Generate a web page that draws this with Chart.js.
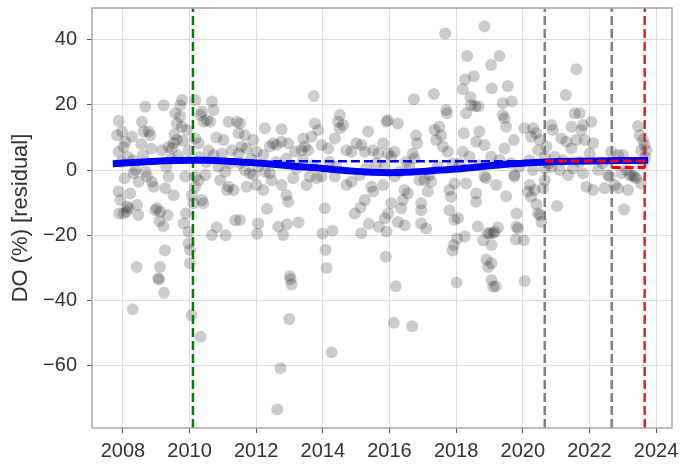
<!DOCTYPE html>
<html>
<head>
<meta charset="utf-8">
<script src="https://cdn.jsdelivr.net/npm/chart.js@4.4.1/dist/chart.umd.min.js"></script>
<style>
    html, body { margin: 0; padding: 0; background: #fff; }
    #wrap { width: 683px; height: 471px; }
</style>
</head>
<body>
<div id="wrap"><canvas id="do-residual-chart" width="683" height="471"></canvas></div>
<script>
// residual observations: [decimal year, DO (%) residual]
const residuals = [
    [2007.87,15.1],[2007.97,11.8],[2007.82,10.7],[2008.07,8.7],[2007.87,5.6],[2008.02,7.1],[2008.27,10.2],[2008.37,0.0],[2008.32,-1.0],[2008.47,-3.6],[2007.87,-6.6],[2007.92,-9.2],[2008.22,-7.2],[2008.12,-11.2],[2007.89,-13.3],[2008.02,-13.3],[2008.17,-11.7],[2008.11,-12.8],[2008.46,-13.8],[2008.42,-10.7],[2008.41,-29.7],[2008.29,-42.7],[2007.95,2.5],[2008.15,4.0],[2008.3,3.0],[2008.05,-2.5],
    [2008.62,11.8],[2008.67,19.4],[2008.57,14.8],[2008.77,11.8],[2008.82,10.7],[2008.67,-0.5],[2008.72,-2.0],[2008.87,-3.6],[2008.92,-5.1],[2008.97,-12.3],[2008.6,4.5],[2008.85,6.5],[2008.55,8.0],
    [2009.12,-12.8],[2009.09,-15.6],[2009.21,-17.2],[2009.17,6.1],[2009.22,19.9],[2009.37,7.1],[2009.47,6.6],[2009.52,8.2],[2009.62,9.2],[2009.57,17.4],[2009.72,19.9],[2009.77,21.5],[2009.62,14.3],[2009.77,13.3],[2009.92,12.3],[2009.72,16.4],[2009.97,6.1],[2009.37,-2.0],[2009.27,-5.6],[2009.52,-7.7],[2009.87,-2.0],[2009.02,-11.7],[2009.34,-13.8],[2009.89,-13.3],[2009.82,-16.4],[2009.97,-18.9],[2009.97,-22.5],[2009.26,-24.7],[2009.11,-29.7],[2009.06,-33.2],[2009.08,-33.6],[2009.23,-37.6],[2009.45,3.5],[2009.65,4.5],[2009.3,1.0],[2009.8,9.0],[2009.55,11.0],
    [2010.01,-24.5],[2010.01,-28.6],[2010.06,-44.5],[2010.33,-51.1],[2010.11,-10.2],[2010.17,9.7],[2010.27,8.2],[2010.32,16.9],[2010.42,14.8],[2010.37,17.9],[2010.52,15.3],[2010.62,14.8],[2010.72,18.4],[2010.67,21.0],[2010.17,21.5],[2010.57,6.1],[2010.72,4.6],[2010.97,5.1],[2010.17,-2.0],[2010.27,-3.1],[2010.47,-1.5],[2010.37,-9.2],[2010.07,-7.7],[2010.87,1.0],[2010.92,-3.1],[2010.81,-17.5],[2010.67,-19.9],[2010.17,-5.1],[2010.41,-10.2],[2010.5,2.5],[2010.3,4.0],[2010.8,10.0],
    [2011.02,9.2],[2011.17,14.8],[2011.42,14.8],[2011.47,11.3],[2011.27,6.1],[2011.47,5.1],[2011.07,-0.5],[2011.17,-5.1],[2011.12,-6.1],[2011.32,-6.1],[2011.37,-15.4],[2011.08,-20.0],[2011.51,14.3],[2011.66,10.7],[2011.56,7.2],[2011.71,6.6],[2011.91,9.2],[2011.51,2.1],[2011.66,0.0],[2011.81,-1.0],[2011.91,-1.5],[2011.71,-5.1],[2011.51,-15.3],[2011.2,2.0],[2011.85,3.5],
    [2012.01,5.6],[2012.21,4.6],[2012.26,12.8],[2012.41,7.2],[2012.51,8.2],[2012.61,7.7],[2012.76,12.5],[2012.76,8.7],[2012.96,8.2],[2012.06,1.0],[2012.26,-0.5],[2012.41,-1.0],[2012.46,-3.1],[2012.21,-6.1],[2012.01,-4.6],[2012.76,-4.6],[2012.91,-7.7],[2012.96,-9.7],[2012.32,-11.9],[2012.06,-16.4],[2012.03,-19.5],[2012.66,-17.4],[2012.81,-19.9],[2012.92,-16.6],[2012.63,-73.4],[2012.73,-60.8],[2012.99,-45.7],[2013.01,-32.5],[2013.03,-33.5],[2013.06,-35.1],[2012.6,2.5],[2012.9,3.5],
    [2013.16,5.6],[2013.36,6.1],[2013.46,7.2],[2013.56,6.1],[2013.41,9.7],[2013.66,10.2],[2013.76,14.3],[2013.86,12.3],[2013.96,7.7],[2013.73,22.7],[2013.11,-2.5],[2013.21,0.5],[2013.51,-4.6],[2013.61,-2.0],[2013.81,-2.5],[2013.96,-2.0],[2013.27,-16.1],[2013.7,1.5],[2013.4,3.0],[2013.99,-19.5],
    [2014.16,6.6],[2014.36,9.7],[2014.51,12.8],[2014.46,14.8],[2014.51,16.9],[2014.61,13.8],[2014.71,6.1],[2014.86,5.6],[2015.01,8.2],[2014.06,-11.7],[2014.08,-24.5],[2014.11,-30.0],[2014.26,-55.9],[2014.29,-18.6],[2014.36,-2.0],[2014.71,-4.6],[2014.86,-3.6],[2014.96,-13.3],[2014.4,1.0],[2014.2,2.5],
    [2015.16,7.7],[2015.36,11.8],[2015.26,5.6],[2015.51,6.1],[2015.66,5.1],[2015.81,8.2],[2015.91,14.8],[2015.96,5.1],[2015.11,-1.5],[2015.46,-5.1],[2015.51,-6.6],[2015.81,-4.6],[2015.26,-9.2],[2015.13,-11.5],[2015.38,-16.5],[2015.15,-19.4],[2015.68,-17.4],[2015.91,-18.9],[2015.86,-14.8],[2015.89,-26.6],[2015.6,2.0],[2015.3,0.5],[2015.85,1.0],[2015.96,-13.3],
    [2015.95,15.3],[2016.25,14.3],[2016.15,5.6],[2016.05,4.1],[2016.15,-2.0],[2016.45,-6.1],[2016.55,-7.2],[2016.05,-10.2],[2016.35,-11.7],[2016.4,-9.2],[2016.25,-15.9],[2016.19,-35.6],[2016.13,-46.8],[2016.68,-47.9],[2016.46,-16.9],[2016.73,21.7],[2016.8,10.7],[2016.83,8.2],[2016.7,5.1],[2016.75,3.6],[2016.9,-3.1],[2016.95,-10.2],[2016.95,-12.3],[2016.95,-16.4],[2016.6,1.0],[2016.3,-0.5],[2016.5,2.5],
    [2017.05,-3.1],[2017.25,-3.6],[2017.15,-6.6],[2017.1,-17.9],[2017.33,23.3],[2017.35,12.3],[2017.5,13.3],[2017.55,10.7],[2017.4,9.2],[2017.6,7.2],[2017.75,5.6],[2017.67,41.9],[2017.7,18.4],[2017.73,17.4],[2017.2,-1.5],[2017.9,2.0],[2017.45,1.0],[2017.8,-6.1],[2017.85,-8.2],[2017.8,-12.3],[2017.95,-15.3],[2017.93,-23.0],[2017.89,-24.7],[2017.95,-4.1],
    [2018.03,-21.0],[2018.06,-14.8],[2018.01,-34.5],[2018.2,24.8],[2018.27,27.8],[2018.33,35.0],[2018.43,22.3],[2018.45,19.9],[2018.57,19.6],[2018.67,19.6],[2018.3,17.4],[2018.53,28.8],[2018.23,11.3],[2018.6,8.7],[2018.85,7.7],[2018.7,11.8],[2018.2,5.6],[2018.4,4.1],[2018.3,-4.1],[2018.26,-20.4],[2018.6,-7.2],[2018.6,-9.7],[2018.85,-2.0],[2018.9,-2.5],[2018.65,-17.3],[2018.85,44.0],[2018.81,-21.5],[2018.91,-27.4],[2018.96,-29.7],[2018.95,-19.4],[2018.1,2.0],[2018.7,1.5],
    [2019.05,32.2],[2019.3,35.0],[2019.07,25.1],[2019.55,25.8],[2019.4,20.5],[2019.67,21.0],[2019.4,16.9],[2019.45,15.9],[2019.5,13.3],[2019.73,9.2],[2019.45,6.6],[2019.05,4.1],[2019.3,3.1],[2019.65,2.1],[2019.75,-1.5],[2019.2,-4.6],[2019.06,-28.6],[2019.01,-19.4],[2019.11,-19.4],[2019.16,-18.9],[2019.26,-17.6],[2019.06,-23.0],[2019.06,-33.7],[2019.11,-35.8],[2019.19,-35.6],[2019.81,-13.3],[2019.81,-17.4],[2019.86,-17.9],[2019.79,-21.3],[2019.5,-8.0],[2019.9,1.0],[2019.75,-2.0],
    [2020.03,-21.5],[2020.06,-34.0],[2020.05,12.8],[2020.25,10.2],[2020.4,11.3],[2020.15,-6.6],[2020.25,-8.2],[2020.41,-10.5],[2020.51,-13.8],[2020.56,-15.9],[2020.31,12.8],[2020.86,13.8],[2020.91,12.3],[2020.51,9.2],[2020.46,6.1],[2020.71,7.2],[2020.66,4.1],[2020.96,4.1],[2020.31,0.0],[2020.66,0.5],[2020.86,1.0],[2020.21,-4.6],[2020.36,-6.1],[2020.61,-5.6],[2020.66,-3.1],[2020.46,-13.3],[2020.2,3.0],[2020.8,2.0],
    [2021.03,-11.0],[2021.61,30.9],[2021.29,23.0],[2021.56,17.4],[2021.71,17.4],[2021.81,13.8],[2021.76,12.3],[2021.46,13.3],[2022.06,14.8],[2021.16,9.7],[2021.31,8.7],[2021.46,6.6],[2021.61,9.2],[2021.86,9.2],[2022.11,8.2],[2022.01,5.1],[2021.11,0.0],[2021.36,-1.5],[2021.51,0.5],[2021.81,-1.0],[2021.91,-5.1],[2021.2,3.0],[2021.7,2.5],
    [2022.26,0.0],[2022.56,-1.5],[2022.61,-2.0],[2022.96,-1.0],[2023.21,-1.5],[2023.36,-2.0],[2023.11,0.0],[2022.76,-4.6],[2022.86,-5.6],[2023.16,-6.1],[2023.56,-4.1],[2022.11,-6.1],[2022.46,-5.6],[2023.04,-12.1],[2023.46,13.5],[2023.51,10.7],[2023.61,9.2],[2023.66,7.7],[2023.71,6.1],[2023.56,6.1],[2022.66,5.6],[2022.86,4.6],[2023.01,4.6],[2023.3,-1.8],[2023.4,-2.5],[2022.4,2.0],[2023.6,2.0],[2023.68,4.0]
];

// smoothed trend (thick blue)
const trendYears  = [2007.8, 2008.5, 2009, 2009.5, 2010, 2010.5, 2011, 2011.5, 2012, 2012.5, 2013, 2013.5, 2014, 2014.5, 2015, 2015.5, 2016, 2016.5, 2017, 2017.5, 2018, 2018.5, 2019, 2019.5, 2020, 2020.66, 2021, 2022, 2023, 2023.66];
const trendValues = [2.0, 2.4, 2.7, 2.9, 3.0, 3.0, 2.8, 2.5, 2.2, 1.8, 1.3, 0.9, 0.5, 0.0, -0.4, -0.7, -0.8, -0.7, -0.4, 0.0, 0.3, 0.8, 1.3, 1.8, 2.1, 2.5, 2.6, 2.8, 2.9, 3.0];

// period means (dashed)
const baseMeanYears    = [2012.5, 2023.66];
const baseMeanValues   = [2.7, 2.7];
const recentMeanYears  = [2020.66, 2023.66];
const recentMeanValues = [2.8, 2.8];
const latestMeanYears  = [2022.67, 2023.66];
const latestMeanValues = [0.8, 0.8];

// event markers (vertical dashed)
const eventYears  = [2010.1, 2020.66, 2022.67, 2023.66];
const eventColors = ['#008000', '#808080', '#808080', '#d62728'];

// axes
const xTicks = [2008, 2010, 2012, 2014, 2016, 2018, 2020, 2022, 2024];
const yTicks = [-60, -40, -20, 0, 20, 40];
const xRange = [2007.07, 2024.48];
const yRange = [-79.1, 49.7];

function toPoints(xs, ys) {
    return xs.map((x, i) => ({ x: x, y: ys[i] }));
}

// box around the plot area (top/right spines too)
const frame = {
    id: 'frame',
    afterDraw(chart) {
        const a = chart.chartArea;
        const c = chart.ctx;
        c.save();
        c.strokeStyle = '#a8a8a8';
        c.lineWidth = 1.5;
        c.strokeRect(a.left, a.top, a.right - a.left, a.bottom - a.top);
        c.restore();
    }
};

const datasets = [];

datasets.push({
    type: 'scatter',
    data: residuals.map(r => ({ x: r[0], y: r[1] })),
    backgroundColor: 'rgba(0, 0, 0, 0.2)',
    borderWidth: 0,
    pointRadius: 6,
    pointHoverRadius: 6,
    order: 10
});

eventYears.forEach((yr, i) => {
    datasets.push({
        type: 'line',
        data: [{ x: yr, y: yRange[0] }, { x: yr, y: yRange[1] }],
        borderColor: eventColors[i],
        borderWidth: 2.5,
        borderDash: [9, 4],
        pointRadius: 0,
        order: 5
    });
});

datasets.push({
    type: 'line',
    data: toPoints(trendYears, trendValues),
    borderColor: '#0000ff',
    borderWidth: 7,
    borderCapStyle: 'square',
    cubicInterpolationMode: 'monotone',
    pointRadius: 0,
    order: 4
});

datasets.push({
    type: 'line',
    data: toPoints(baseMeanYears, baseMeanValues),
    borderColor: '#0000ff',
    borderWidth: 2.5,
    borderDash: [9, 4],
    pointRadius: 0,
    order: 3
});

[[recentMeanYears, recentMeanValues], [latestMeanYears, latestMeanValues]].forEach(([xs, ys]) => {
    datasets.push({
        type: 'line',
        data: toPoints(xs, ys),
        borderColor: '#ff0000',
        borderWidth: 3,
        borderDash: [9, 4],
        pointRadius: 0,
        order: 2
    });
});

Chart.defaults.font.family = '"Liberation Sans", Arial, sans-serif';
Chart.defaults.color = '#333333';

const ctx = document.getElementById('do-residual-chart').getContext('2d');
new Chart(ctx, {
    data: { datasets: datasets },
    options: {
        responsive: false,
        animation: false,
        layout: { padding: { left: 0, right: 11, top: 8, bottom: 0 } },
        plugins: {
            legend: { display: false },
            tooltip: { enabled: false }
        },
        scales: {
            x: {
                type: 'linear',
                min: xRange[0],
                max: xRange[1],
                afterBuildTicks: s => { s.ticks = xTicks.map(v => ({ value: v })); },
                afterFit: s => { s.height = 43; s.paddingLeft = 0; s.paddingRight = 0; },
                border: { display: false },
                grid: { color: '#dddddd', lineWidth: 1, tickColor: '#555555', tickLength: 5 },
                ticks: {
                    font: { size: 20 },
                    color: '#333333',
                    padding: 6,
                    maxRotation: 0,
                    autoSkip: false,
                    callback: v => String(v)
                }
            },
            y: {
                type: 'linear',
                min: yRange[0],
                max: yRange[1],
                afterBuildTicks: s => { s.ticks = yTicks.map(v => ({ value: v })); },
                afterFit: s => { s.width = 92; s.paddingTop = 0; s.paddingBottom = 0; },
                border: { display: false },
                grid: { color: '#dddddd', lineWidth: 1, tickColor: '#555555', tickLength: 5 },
                title: {
                    display: true,
                    text: 'DO (%) [residual]',
                    font: { size: 22 },
                    color: '#333333',
                    padding: { top: 8, bottom: 0 }
                },
                ticks: {
                    font: { size: 20 },
                    color: '#333333',
                    padding: 10,
                    callback: v => (v < 0 ? '\u2212' + Math.abs(v) : String(v))
                }
            }
        }
    },
    plugins: [frame]
});
</script>
</body>
</html>
